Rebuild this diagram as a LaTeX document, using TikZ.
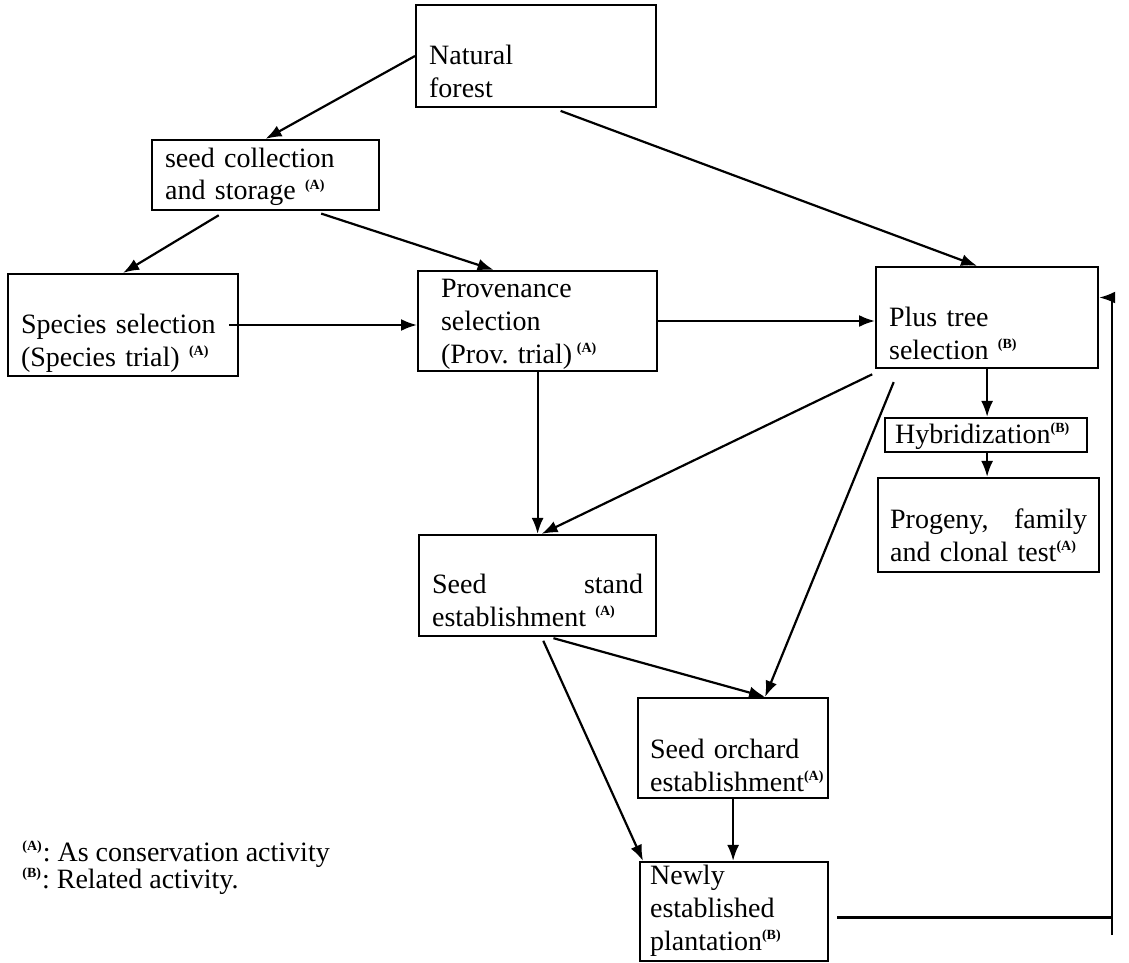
\documentclass[tikz,border=0pt]{standalone}
\usepackage{fontspec}
\setmainfont{Liberation Serif}
\usetikzlibrary{arrows.meta,positioning}

\newcommand{\act}[1]{\textsuperscript{\fontsize{7}{8}\selectfont\bfseries(#1)}}

\tikzset{
  box/.style={draw, line width=1.1pt, inner xsep=6.5pt, inner ysep=0pt, align=left,
    anchor=base west, font={\fontsize{14}{16.5}\selectfont}},
  conn/.style={-{Latex[length=8pt,width=6pt]}, line width=1.1pt},
  note/.style={anchor=base west, inner sep=0pt, font={\fontsize{14}{16.5}\selectfont}}
}

\begin{document}
\frenchspacing
\begin{tikzpicture}[x=0.5pt,y=-0.5pt]

  \useasboundingbox (0,0) rectangle (1129,963);

  \node[box, text width=107pt, text height=30pt, text depth=21pt] (forest) at (415,65) {Natural\\forest};
  \node[box, text width=100.5pt, text height=13.5pt, text depth=21.5pt] (seedcol) at (151,167) {seed collection\\and storage \act{A}};
  \node[box, text width=102pt, text height=29.5pt, text depth=21.5pt] (species) at (7,333) {Species selection\\(Species trial) \act{A}};
  \node[box, inner xsep=11.5pt, text width=96.5pt, text height=13pt, text depth=37pt] (prov) at (417,297) {Provenance\\selection\\(Prov. trial)\,\act{A}};
  \node[box, text width=98pt, text height=29.5pt, text depth=21pt] (plus) at (875,326) {Plus tree\\selection \act{B}};
  \node[box, inner xsep=5pt, text width=91pt, text height=12.5pt, text depth=4.5pt] (hybrid) at (884,443) {Hybridization\act{B}};
  \node[box, inner xsep=6pt, text width=98.5pt, text height=25pt, text depth=22pt] (progeny) at (877,528) {Progeny,\hfill family\\and clonal test\act{A}};
  \node[box, text width=105.5pt, text height=29pt, text depth=21.5pt] (stand) at (418,593) {Seed\hfill stand\\establishment \act{A}};
  \node[box, inner xsep=6pt, text width=83pt, text height=30pt, text depth=20pt] (orchard) at (637,758) {Seed orchard\\establishment\act{A}};
  \node[box, inner xsep=5pt, text width=84pt, text height=11pt, text depth=38.5pt] (newly) at (639,884) {Newly\\established\\plantation\act{B}};

  \node[note] (noteA) at (22,861) {\act{A}: As conservation activity};
  \node[note] (noteB) at (22,888) {\act{B}: Related activity.};

  \coordinate (loopbot) at (1112,935);

  \draw[conn] (forest.west) -- (seedcol.north);
  \draw[conn, shorten <=4pt] ([xshift=8.5pt]forest.south) -- ([xshift=-5pt]plus.north);
  \draw[conn, shorten <=4pt] ([xshift=-20pt]seedcol.south) -- (species.north);
  \draw[conn, shorten <=4pt] ([xshift=24pt]seedcol.south) -- ([xshift=-22pt]prov.north);
  \draw[conn] ([xshift=-5pt]species.east) -- (species.east -| prov.west);
  \draw[conn] (prov.east) -- (prov.east -| plus.west);
  \draw[conn] (prov.south) -- (stand.north);
  \draw[conn, shorten <=6pt] ([xshift=4pt]plus.south west) -- ([xshift=2pt]stand.north);
  \draw[conn, shorten <=7pt] ([xshift=12pt]plus.south west) -- ([xshift=16pt]orchard.north);
  \draw[conn] (plus.south) -- (plus.south |- hybrid.north);
  \draw[conn] (plus.south |- hybrid.south) -- (plus.south |- progeny.north);
  \draw[conn, shorten <=2pt] ([xshift=6pt]stand.south) -- ([xshift=16pt]orchard.north);
  \draw[conn, shorten <=2pt] ([xshift=2pt]stand.south) -- ([xshift=2pt]newly.north west);
  \draw[conn] (orchard.south) -- (orchard.south |- newly.north);

  \draw[line width=1.1pt, shorten <=4pt] ([yshift=-3pt]newly.east) -- ([yshift=-3pt]newly.east -| loopbot);
  \draw[conn] (loopbot) |- ([yshift=10pt]plus.east);

\end{tikzpicture}
\end{document}
